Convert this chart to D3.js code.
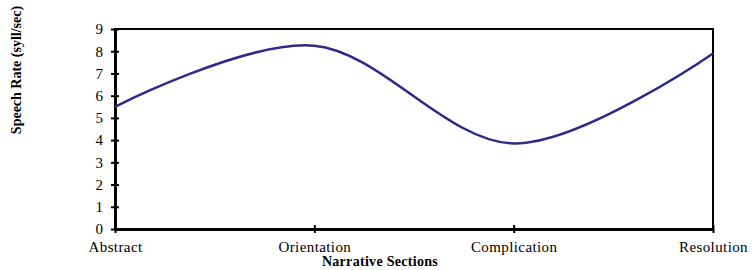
<!DOCTYPE html>
<html>
<head>
<meta charset="utf-8">
<script src="https://cdn.jsdelivr.net/npm/d3@7"></script>
<style>
  body { margin: 0; background: #fff; }
  svg { display: block; }
</style>
</head>
<body>
<div id="chart"></div>
<script>
//size
const width = 754;
const height = 270;

//data
const sections = ["Abstract", "Orientation", "Complication", "Resolution"];
const speechRate = [5.5, 8.25, 3.85, 7.9];
const yTicks = [0, 1, 2, 3, 4, 5, 6, 7, 8, 9];

//plot area
const margin = { left: 115, right: 41, top: 29, bottom: 41 };

const x = d3
  .scalePoint()
  .domain(sections)
  .range([margin.left, width - margin.right]);

const y = d3
  .scaleLinear()
  .domain([0, 9])
  .range([height - margin.bottom, margin.top]);

const svg = d3
  .select("#chart")
  .append("svg")
  .attr("width", width)
  .attr("height", height)
  .style("font-family", "'Liberation Serif', 'Times New Roman', serif");

//frame
svg
  .append("rect")
  .attr("x", margin.left)
  .attr("y", margin.top)
  .attr("width", width - margin.left - margin.right)
  .attr("height", height - margin.top - margin.bottom)
  .attr("fill", "none")
  .attr("stroke", "#000")
  .attr("stroke-width", 2);

//y axis
const yAxis = svg
  .append("g")
  .attr("transform", `translate(${margin.left},0)`)
  .call(d3.axisLeft(y).tickValues(yTicks).tickSize(0).tickPadding(12));
yAxis.select(".domain").attr("stroke", "#000").attr("stroke-width", 3);
yAxis
  .selectAll("text")
  .attr("font-size", 15)
  .attr("fill", "#000")
  .attr("font-family", "'Liberation Serif', serif");
yAxis
  .selectAll(".tick")
  .append("line")
  .attr("x1", -4)
  .attr("x2", 4)
  .attr("stroke", "#000")
  .attr("stroke-width", 2);

//x axis
const xAxis = svg
  .append("g")
  .attr("transform", `translate(0,${height - margin.bottom})`)
  .call(d3.axisBottom(x).tickSize(0).tickPadding(12));
xAxis.select(".domain").attr("stroke", "#000").attr("stroke-width", 3);
xAxis
  .selectAll("text")
  .attr("font-size", 15)
  .attr("fill", "#000")
  .attr("font-family", "'Liberation Serif', serif")
  .attr("letter-spacing", "0.4px");
xAxis
  .selectAll(".tick")
  .append("line")
  .attr("y1", -4)
  .attr("y2", 4)
  .attr("stroke", "#000")
  .attr("stroke-width", 2);

//line
const line = d3
  .line()
  .x((d, i) => x(sections[i]))
  .y((d) => y(d))
  .curve(d3.curveCardinal.tension(0));

svg
  .append("path")
  .datum(speechRate)
  .attr("d", line)
  .attr("fill", "none")
  .attr("stroke", "#2e2a86")
  .attr("stroke-width", 2.5);

//axis titles
svg
  .append("text")
  .attr("transform", "translate(21,70) rotate(-90)")
  .attr("text-anchor", "middle")
  .attr("font-size", 14)
  .attr("font-weight", "bold")
  .text("Speech Rate (syll/sec)");

svg
  .append("text")
  .attr("x", 380)
  .attr("y", 266)
  .attr("text-anchor", "middle")
  .attr("font-size", 14)
  .attr("font-weight", "bold")
  .attr("letter-spacing", "0.3px")
  .text("Narrative Sections");
</script>
</body>
</html>
